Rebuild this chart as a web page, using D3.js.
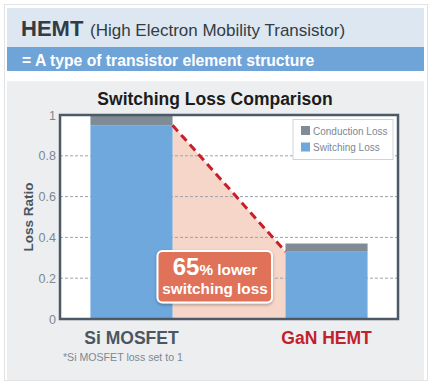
<!DOCTYPE html>
<html><head><meta charset="utf-8">
<script src="https://cdn.jsdelivr.net/npm/d3@7"></script>
<style>body{margin:0;background:#fff;font-family:"Liberation Sans",Arial,sans-serif;}</style>
</head><body>
<svg id="c" width="432" height="385"></svg>
<script>
const categories = ["Si MOSFET", "GaN HEMT"];
const switchingLoss = [0.95, 0.33];
const conductionLoss = [0.05, 0.04];
const yTicks = [0, 0.2, 0.4, 0.6, 0.8, 1];
const seriesNames = ["Conduction Loss", "Switching Loss"];
const seriesColors = ["#7f8b95", "#6fa8dc"];
const catColors = ["#4a5660", "#c1212b"];

const svg = d3.select("#c");
// frame
svg.append("rect").attr("x",4.5).attr("y",4.5).attr("width",423).attr("height",376).attr("fill","#fff").attr("stroke","#e2e2e2");
svg.append("rect").attr("x",7).attr("y",8).attr("width",417).attr("height",39).attr("fill","#dce7f2");
svg.append("rect").attr("x",7).attr("y",47).attr("width",417).attr("height",24).attr("fill","#6fa4d9");
svg.append("rect").attr("x",7).attr("y",81).attr("width",417).attr("height",299).attr("fill","#eceef0");

svg.append("text").attr("x",21).attr("y",36).attr("fill","#333c43").attr("font-size",22).attr("font-weight","bold").text("HEMT");
svg.append("text").attr("x",90).attr("y",36).attr("fill","#333c43").attr("font-size",17).text("(High Electron Mobility Transistor)");
svg.append("text").attr("x",22).attr("y",65.5).attr("fill","#fff").attr("font-size",15.7).attr("font-weight","bold")
  .text("= A type of transistor element structure");

svg.append("text").attr("x",215).attr("y",105).attr("text-anchor","middle").attr("font-size",17.5)
  .attr("font-weight","bold").attr("fill","#1c1c1c").text("Switching Loss Comparison");

const L=60, R=398, T=115, B=319;
const x = d3.scaleBand().domain(categories).range([L,R]).paddingInner(0.579).paddingOuter(0.156);
const y = d3.scaleLinear().domain([0,1]).range([B,T]);

svg.append("rect").attr("x",L).attr("y",T).attr("width",R-L).attr("height",B-T).attr("fill","#fff");

// pink area between bars
const x0 = x(categories[0]) + x.bandwidth(), x1 = x(categories[1]);
svg.append("path").attr("fill","#f6d6c9")
  .attr("d", d3.area().x(d=>d[0]).y0(y(0)).y1(d=>y(d[1]))([[x0,switchingLoss[0]],[x1,switchingLoss[1]]]));

// grid
const yAxis = d3.axisLeft(y).tickValues(yTicks).tickSize(0).tickPadding(4).tickFormat(d3.format("~g"));
const ga = svg.append("g").attr("transform",`translate(${L},0)`).call(yAxis);
ga.select(".domain").remove();
ga.selectAll("text").attr("font-size",12.5).attr("fill","#7c8893").attr("font-family","Liberation Sans, Arial, sans-serif");
svg.append("g").selectAll("line").data(yTicks.filter(d=>d>0&&d<1)).join("line")
  .attr("x1",L).attr("x2",R).attr("y1",d=>y(d)).attr("y2",d=>y(d))
  .attr("stroke","#9aa3aa").attr("stroke-width",1).attr("stroke-dasharray","3,2");

// bars
const stacks = categories.map((c,i)=>({c, s:switchingLoss[i], k:conductionLoss[i]}));
svg.append("g").selectAll("rect").data(stacks).join("rect")
  .attr("x",d=>x(d.c)).attr("width",x.bandwidth()).attr("y",d=>y(d.s)).attr("height",d=>y(0)-y(d.s)).attr("fill",seriesColors[1]);
svg.append("g").selectAll("rect").data(stacks).join("rect")
  .attr("x",d=>x(d.c)).attr("width",x.bandwidth()).attr("y",d=>y(d.s+d.k)).attr("height",d=>y(d.s)-y(d.s+d.k)).attr("fill",seriesColors[0]);

// dashed red line
svg.append("line").attr("x1",x0).attr("y1",y(switchingLoss[0])).attr("x2",x1).attr("y2",y(switchingLoss[1]))
  .attr("stroke","#c8202b").attr("stroke-width",3).attr("stroke-dasharray","8,5");

// plot frame
svg.append("rect").attr("x",L).attr("y",T).attr("width",R-L).attr("height",B-T).attr("fill","none")
  .attr("stroke","#4b5a66").attr("stroke-width",2.5);

// legend
const lg = svg.append("g");
lg.append("rect").attr("x",293).attr("y",119.5).attr("width",100).attr("height",40).attr("fill","#fff").attr("stroke","#cfd3d6");
seriesNames.forEach((n,i)=>{
  lg.append("rect").attr("x",301).attr("y",126+i*16.5).attr("width",9).attr("height",9).attr("fill",seriesColors[i]);
  lg.append("text").attr("x",313).attr("y",134.5+i*16.5).attr("font-size",10).attr("fill","#7c8893").text(n);
});

// annotation
const defs = svg.append("defs");
const f = defs.append("filter").attr("id","sh").attr("x","-20%").attr("y","-20%").attr("width","140%").attr("height","150%");
f.append("feDropShadow").attr("dx",0).attr("dy",1.5).attr("stdDeviation",1.5).attr("flood-color","#000").attr("flood-opacity",0.3);
svg.append("rect").attr("x",157.5).attr("y",251).attr("width",114.5).attr("height",51.5).attr("rx",5)
  .attr("fill","#e0725a").attr("stroke","#fff").attr("stroke-width",2).attr("filter","url(#sh)");
const a1 = svg.append("text").attr("x",215).attr("y",275).attr("text-anchor","middle").attr("fill","#fff").attr("font-weight","bold");
a1.append("tspan").attr("font-size",24).text("65");
a1.append("tspan").attr("font-size",15.3).text("% lower");
svg.append("text").attr("x",215).attr("y",293.5).attr("text-anchor","middle").attr("fill","#fff").attr("font-weight","bold")
  .attr("font-size",15.3).text("switching loss");

// y title
svg.append("text").attr("transform","translate(33,217) rotate(-90)").attr("text-anchor","middle")
  .attr("font-size",13.5).attr("font-weight","bold").attr("fill","#4a5660").text("Loss Ratio");

// x labels
svg.append("g").selectAll("text").data(categories).join("text")
  .attr("x",d=>x(d)+x.bandwidth()/2).attr("y",344).attr("text-anchor","middle")
  .attr("font-size",17.5).attr("font-weight","bold").attr("fill",(d,i)=>catColors[i]).text(d=>d);
svg.append("text").attr("x",63).attr("y",360.5).attr("font-size",10.6).attr("fill","#7c8893").text("*Si MOSFET loss set to 1");
</script>
</body></html>
